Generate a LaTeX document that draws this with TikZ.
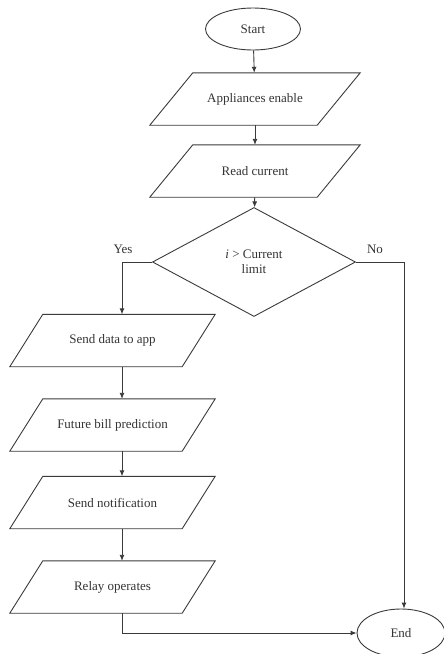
\documentclass[tikz,border=0pt]{standalone}
\usepackage{fontspec}
\setmainfont{Liberation Serif}
\usetikzlibrary{shapes.geometric,arrows.meta}
\definecolor{ln}{HTML}{3A3A3A}
\definecolor{tx}{HTML}{333333}
\newcommand\plgdraw[2]{\draw[line,line join=miter] ([xshift={-#2/2*1pt}]#1.south west) -- ([xshift={#2/2*1pt}]#1.north west) -- ([xshift={#2/2*1pt}]#1.north east) -- ([xshift={-#2/2*1pt}]#1.south east) -- cycle;}
\begin{document}
\begin{tikzpicture}[x=1pt,y=1pt,
  every node/.style={font=\fontsize{13}{15}\selectfont, text=tx},
  line/.style={draw=ln, line width=0.9pt},
  arr/.style={line, -{Latex[length=6pt,width=5pt]}},
  term/.style={ellipse, draw=ln, line width=0.9pt, inner sep=0pt},
  iobox/.style={rectangle, inner sep=0pt, minimum height=52pt, minimum width=#1},
  decbox/.style={diamond, draw=ln, line width=0.9pt, inner sep=0pt, align=center}]
\useasboundingbox (0,0) rectangle (444,-654);
\node[term, minimum width=95pt, minimum height=42pt] (start) at (253,-29) {Start};
\node[iobox=167pt] (app) at (255,-99) {Appliances enable};
\node[iobox=167pt] (rc) at (255,-171) {Read current};
\node[decbox, minimum width=203pt, minimum height=109pt] (dec) at (254,-262) {\textit{i} > Current\\limit};
\coordinate (yl) at (122,-262);
\coordinate (nl) at (404,-262);
\node[iobox=172pt] (sd) at (112.5,-340.5) {Send data to app};
\node[iobox=172pt] (fb) at (112.5,-425) {Future bill prediction};
\node[iobox=172pt] (sn) at (112.5,-502.5) {Send notification};
\node[iobox=172pt] (ro) at (112.5,-587) {Relay operates};
\plgdraw{app}{43}
\plgdraw{rc}{43}
\plgdraw{sd}{33}
\plgdraw{fb}{33}
\plgdraw{sn}{33}
\plgdraw{ro}{33}
\node[term, minimum width=88pt, minimum height=48pt] (end) at (401,-633) {End};
\node (yes) at (123,-249) {Yes};
\node (no) at (375,-249) {No};
\draw[arr] (start) -- (app);
\draw[arr] (app) -- (rc);
\draw[arr] (rc) -- (dec);
\draw[arr] (dec.west) -- (yl) -- (sd.north -| yl);
\draw[arr] (dec.east) -- (nl) -- (end.north -| nl);
\draw[arr] (sd.south -| yl) -- (fb.north -| yl);
\draw[arr] (fb.south -| yl) -- (sn.north -| yl);
\draw[arr] (sn.south -| yl) -- (ro.north -| yl);
\draw[arr] (ro.south -| yl) |- (end.west);
\end{tikzpicture}
\end{document}
